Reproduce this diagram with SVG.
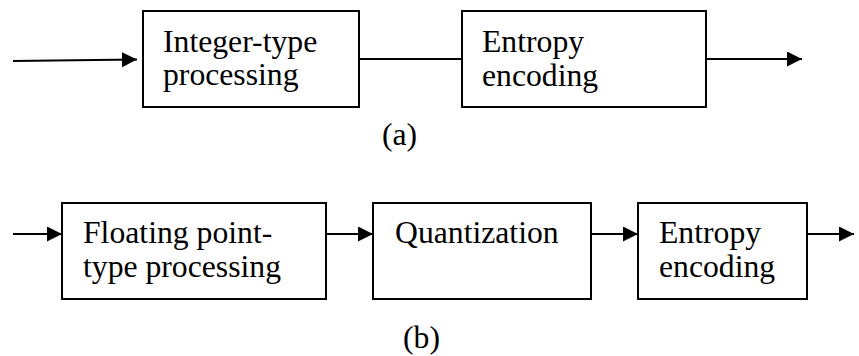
<svg xmlns="http://www.w3.org/2000/svg" width="859" height="356" viewBox="0 0 859 356">
<style>
.box{fill:#fff;stroke:#000;stroke-width:2}
.ln{stroke:#000;stroke-width:2;fill:none}
.t{font-family:'Liberation Serif','Times New Roman',serif;font-size:31.7px;fill:#000}
</style>
<defs>
<marker id="ah" markerUnits="userSpaceOnUse" markerWidth="16" markerHeight="16" refX="15" refY="7.5" orient="auto">
<path d="M0,0 L15,7.5 L0,15 Z" fill="#000"/>
</marker>
</defs>
<rect width="859" height="356" fill="#fff"/>
<g id="connectors">
<line class="ln" x1="13" y1="61" x2="137" y2="59.5" marker-end="url(#ah)"/>
<line class="ln" x1="359" y1="59" x2="462" y2="59"/>
<line class="ln" x1="706" y1="59" x2="802" y2="59" marker-end="url(#ah)"/>
<line class="ln" x1="13" y1="234" x2="62" y2="234" marker-end="url(#ah)"/>
<line class="ln" x1="326" y1="234" x2="373" y2="234" marker-end="url(#ah)"/>
<line class="ln" x1="591" y1="234" x2="638" y2="234" marker-end="url(#ah)"/>
<line class="ln" x1="807" y1="234" x2="854" y2="234" marker-end="url(#ah)"/>
</g>
<g id="a-integer">
<rect class="box" x="143" y="11" width="216" height="96"/>
<text class="t" x="163" y="52">Integer-type</text>
<text class="t" x="163" y="85">processing</text>
</g>
<g id="a-entropy">
<rect class="box" x="462" y="11" width="244" height="96"/>
<text class="t" x="482" y="52">Entropy</text>
<text class="t" x="482" y="86">encoding</text>
</g>
<g id="label-a"><text class="t" x="382" y="145">(a)</text></g>
<g id="b-float">
<rect class="box" x="62" y="203" width="264" height="96"/>
<text class="t" x="83" y="243">Floating point-</text>
<text class="t" x="83" y="277">type processing</text>
</g>
<g id="b-quant">
<rect class="box" x="373" y="203" width="218" height="96"/>
<text class="t" x="395" y="243">Quantization</text>
</g>
<g id="b-entropy">
<rect class="box" x="638" y="203" width="169" height="96"/>
<text class="t" x="659" y="243">Entropy</text>
<text class="t" x="659" y="277">encoding</text>
</g>
<g id="label-b"><text class="t" x="403" y="348">(b)</text></g>
</svg>
